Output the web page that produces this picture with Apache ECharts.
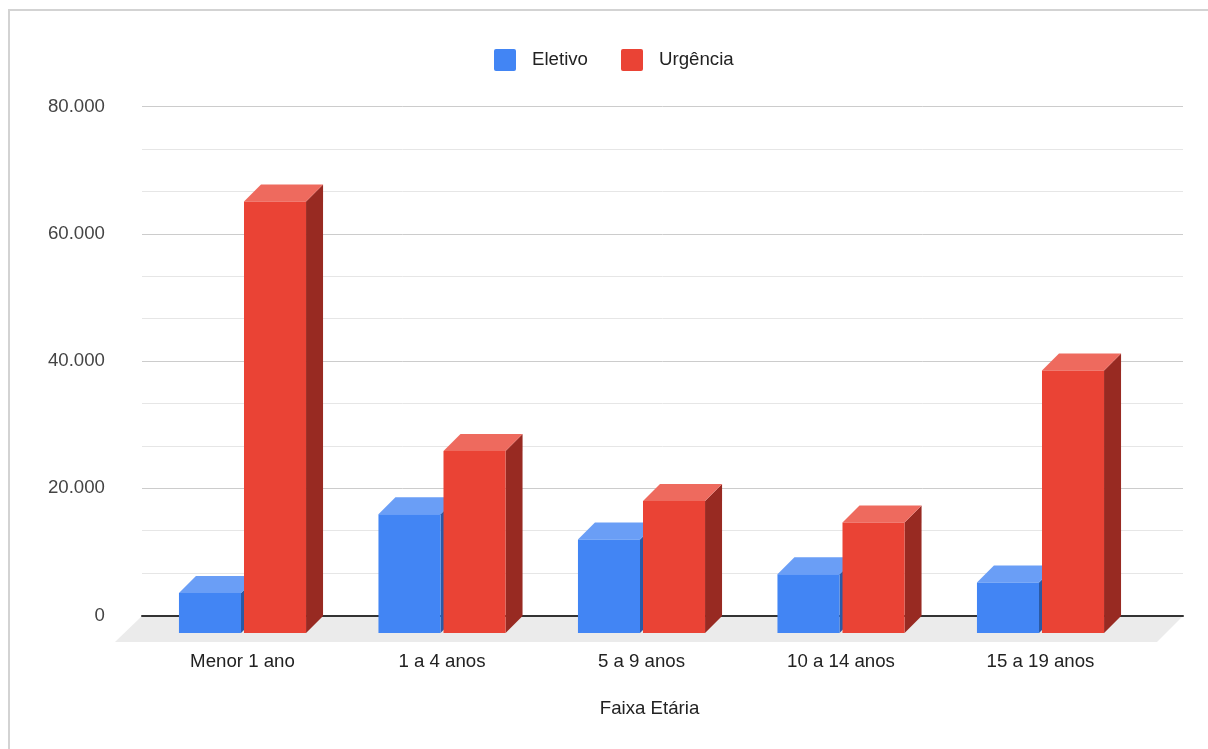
<!DOCTYPE html>
<html>
<head>
<meta charset="utf-8">
<script src="https://cdn.jsdelivr.net/npm/echarts@6/dist/echarts.min.js"></script>
<style>
html,body{margin:0;padding:0;background:#fff;}
#chart{width:1208px;height:749px;}
</style>
</head>
<body>
<div id="chart"></div>
<script>
const categories = ['Menor 1 ano', '1 a 4 anos', '5 a 9 anos', '10 a 14 anos', '15 a 19 anos'];
const eletivo = [6300, 18650, 14700, 9250, 7950];
const urgencia = [67800, 28600, 20750, 17350, 41250];
const seriesNames = ['Eletivo', 'Urgência'];
const yMin = 0, yMax = 80000, yInterval = 20000;
const axisTitle = 'Faixa Etária';

const FONT = '"Liberation Sans", Arial, sans-serif';
const FS = 18.67;
const DEPTH = 17;
const palette = [
  {front: '#4285f4', top: '#6a9ef6', side: '#2b5aa6'},
  {front: '#ea4335', top: '#ee6a5e', side: '#982a22'}
];

function fmt(v) {
  return String(v).replace(/\B(?=(\d{3})+(?!\d))/g, '.');
}

function makeRender(sIdx) {
  return function (params, api) {
    const i = api.value(0), v = api.value(1);
    const top = api.coord([i, v]);
    const base = api.coord([i, 0]);
    const band = api.size([1, 0])[0];
    const bw = band * 0.311;
    const gap = band * 0.015;
    const cx = base[0];
    const x0 = sIdx === 0 ? cx - gap / 2 - bw : cx + gap / 2;
    const yT = top[1], yB = base[1];
    const d = DEPTH;
    const c = palette[sIdx];
    return {
      type: 'group',
      children: [
        {type: 'polygon', shape: {points: [[x0 + bw, yT], [x0 + bw + d, yT - d], [x0 + bw + d, yB - d], [x0 + bw, yB]]}, style: {fill: c.side}},
        {type: 'polygon', shape: {points: [[x0, yT], [x0 + d, yT - d], [x0 + bw + d, yT - d], [x0 + bw, yT]]}, style: {fill: c.top}},
        {type: 'rect', shape: {x: x0, y: yT, width: bw, height: yB - yT}, style: {fill: c.front}}
      ]
    };
  };
}

const chart = echarts.init(document.getElementById('chart'), null, {renderer: 'canvas'});
const option = {
  backgroundColor: '#ffffff',
  animation: false,
  textStyle: {fontFamily: FONT},
  legend: {
    left: 494, top: 49, padding: 0,
    itemWidth: 22, itemHeight: 22, itemGap: 33,
    icon: 'path://M2,0 L20,0 Q22,0 22,2 L22,20 Q22,22 20,22 L2,22 Q0,22 0,20 L0,2 Q0,0 2,0 Z',
    data: seriesNames,
    textStyle: {fontFamily: FONT, fontSize: FS, color: '#222', padding: [0, 0, 0, 11]}
  },
  graphic: [
    {type: 'rect', z: -10, shape: {x: 9, y: 10, width: 1220, height: 760}, style: {fill: 'none', stroke: '#d3d3d3', lineWidth: 2}},
    {type: 'polygon', z: -5, shape: {points: [[142, 616], [1183, 616], [1157, 642], [115, 642]]}, style: {fill: '#ebebeb'}},
    {type: 'text', style: {x: 649.5, y: 709, text: axisTitle, textAlign: 'center', textVerticalAlign: 'middle', fontFamily: FONT, fontSize: FS, fill: '#222'}}
  ],
  grid: [
    {left: 142, right: 25, top: 106.5, bottom: 133.5},
    {left: 142.75, right: 67.75, top: 124, bottom: 116}
  ],
  xAxis: [
    {gridIndex: 0, type: 'value', min: 0, max: 1, z: 0,
     axisLine: {show: true, lineStyle: {color: '#333', width: 2}},
     axisTick: {show: false}, axisLabel: {show: false}, splitLine: {show: false}},
    {gridIndex: 1, type: 'category', data: categories,
     axisLine: {show: false}, axisTick: {show: false},
     axisLabel: {margin: 19, fontFamily: FONT, fontSize: FS, color: '#222'}}
  ],
  yAxis: [
    {gridIndex: 0, type: 'value', min: yMin, max: yMax, interval: yInterval, z: 0,
     axisLine: {show: false}, axisTick: {show: false},
     axisLabel: {margin: 37, fontFamily: FONT, fontSize: FS, color: '#444', formatter: fmt},
     splitLine: {show: true, lineStyle: {color: '#cccccc', width: 1}},
     minorTick: {show: false, splitNumber: 3},
     minorSplitLine: {show: true, lineStyle: {color: '#e6e6e6', width: 1}}},
    {gridIndex: 1, type: 'value', min: yMin, max: yMax, show: false, splitLine: {show: false}}
  ],
  series: [
    {name: seriesNames[0], type: 'custom', xAxisIndex: 1, yAxisIndex: 1, z: 10,
     itemStyle: {color: palette[0].front},
     renderItem: makeRender(0), encode: {x: 0, y: 1},
     data: eletivo.map((v, i) => [i, v])},
    {name: seriesNames[1], type: 'custom', xAxisIndex: 1, yAxisIndex: 1, z: 10,
     itemStyle: {color: palette[1].front},
     renderItem: makeRender(1), encode: {x: 0, y: 1},
     data: urgencia.map((v, i) => [i, v])}
  ]
};
chart.setOption(option);
</script>
</body>
</html>
